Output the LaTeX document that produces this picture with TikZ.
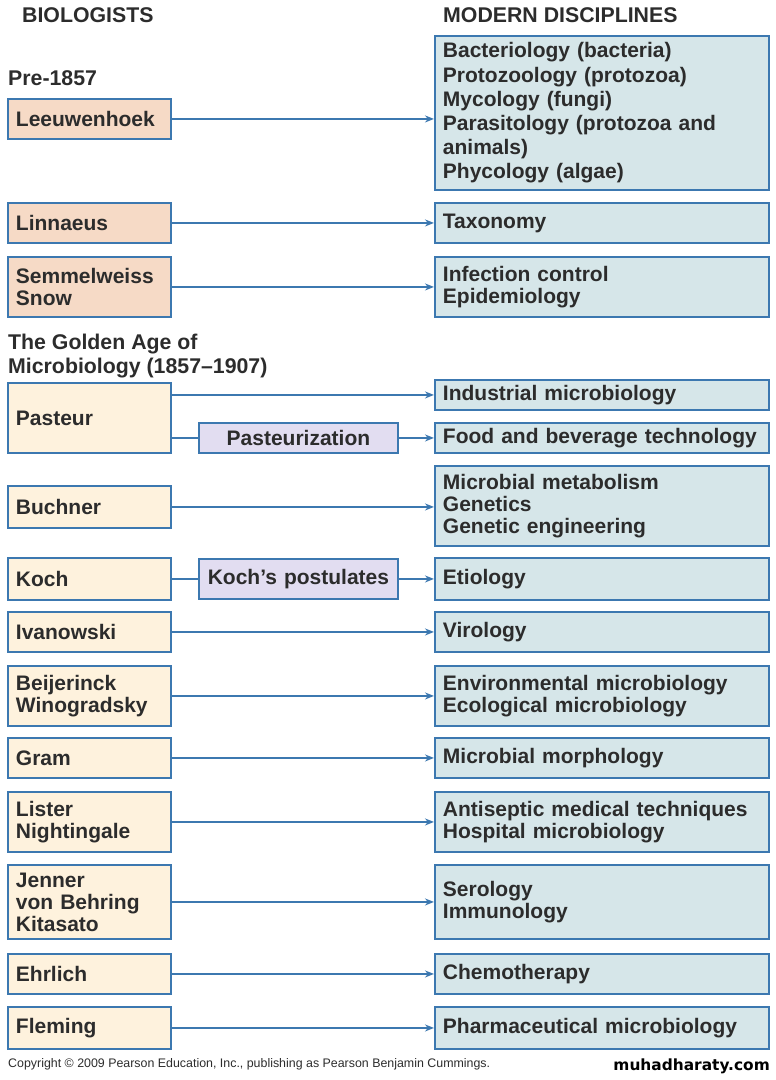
\documentclass[tikz,border=0pt]{standalone}
\usepackage{fontspec}
\setmainfont{Liberation Sans}
\newfontfamily\wmfont{DejaVu Sans}
\usetikzlibrary{arrows.meta}
\definecolor{bord}{HTML}{3C78B0}
\definecolor{peach}{HTML}{F6DAC6}
\definecolor{cream}{HTML}{FEF2DD}
\definecolor{bluegray}{HTML}{D6E6E9}
\definecolor{lav}{HTML}{E2DDF1}
\definecolor{txt}{HTML}{2C2C2C}
\hyphenpenalty=10000
\exhyphenpenalty=10000
\tikzset{
  x=1pt,y=-1pt,
  bx/.style={draw=bord,line width=1.9pt,anchor=north west,align=left,inner xsep=8pt,inner ysep=0pt,
    font=\fontsize{21}{22}\selectfont\bfseries,text=txt},
  lpre/.style={bx,fill=peach,text width=147pt},
  lgold/.style={bx,fill=cream,text width=147pt},
  rbox/.style={bx,fill=bluegray,inner xsep=8pt,text width=318pt},
  mbox/.style={bx,fill=lav,align=center,inner xsep=2pt,text width=195pt},
  hdr/.style={anchor=west,font=\fontsize{21.3}{22}\selectfont\bfseries,text=txt,inner sep=0pt},
  arr/.style={draw=bord,line width=1.9pt,-{Stealth[length=9pt,width=7pt]}},
  ln/.style={draw=bord,line width=1.9pt}
}
\begin{document}
\begin{tikzpicture}
\useasboundingbox (0,0) rectangle (776,1080);
% headers
\node[hdr] (h1) at (22,15) {BIOLOGISTS};
\node[hdr] (h2) at (443,15) {MODERN DISCIPLINES};
\node[hdr] (h3) at (8,78) {Pre-1857};
\node[hdr,align=left,anchor=north west,font=\fontsize{21.3}{24}\selectfont\bfseries] (h4) at (8,334) {The Golden Age of\\Microbiology (1857–1907)};
% left boxes
\node[lpre,minimum height=40pt] (leeu) at (7,98) {Leeuwenhoek};
\node[lpre,minimum height=40pt] (linn) at (7,202) {Linnaeus};
\node[lpre,minimum height=60pt] (semm) at (7,256) {Semmelweiss\\Snow};
\node[lgold,minimum height=70pt] (past) at (7,382) {Pasteur};
\node[lgold,minimum height=42pt] (buch) at (7,485) {Buchner};
\node[lgold,minimum height=42pt] (koch) at (7,557) {Koch};
\node[lgold,minimum height=40pt] (ivan) at (7,611) {Ivanowski};
\node[lgold,minimum height=60pt] (beij) at (7,665) {Beijerinck\\Winogradsky};
\node[lgold,minimum height=40pt] (gram) at (7,737) {Gram};
\node[lgold,minimum height=60pt] (list) at (7,791) {Lister\\Nightingale};
\node[lgold,minimum height=74pt] (jenn) at (7,864) {Jenner\\von Behring\\Kitasato};
\node[lgold,minimum height=40pt] (ehrl) at (7,953) {Ehrlich};
\node[lgold,minimum height=42pt] (flem) at (7,1006) {Fleming};
% middle boxes
\node[mbox,minimum height=30pt] (pz) at (198,422) {Pasteurization};
\node[mbox,minimum height=40pt] (kp) at (198,558) {Koch’s postulates};
% right boxes
\node[rbox,minimum height=154pt,font=\fontsize{21}{24.2}\selectfont\bfseries] (bact) at (434,35) {Bacteriology (bacteria)\\Protozoology (protozoa)\\Mycology (fungi)\\Parasitology (protozoa and\\animals)\\Phycology (algae)};
\node[rbox,minimum height=40pt] (taxo) at (434,202) {Taxonomy};
\node[rbox,minimum height=60pt] (infc) at (434,256) {Infection control\\Epidemiology};
\node[rbox,minimum height=30pt] (indu) at (434,379) {Industrial microbiology};
\node[rbox,minimum height=30pt] (food) at (434,422) {Food and beverage technology};
\node[rbox,minimum height=80pt] (meta) at (434,465) {Microbial metabolism\\Genetics\\Genetic engineering};
\node[rbox,minimum height=42pt] (etio) at (434,557) {Etiology};
\node[rbox,minimum height=40pt] (viro) at (434,611) {Virology};
\node[rbox,minimum height=60pt] (envi) at (434,665) {Environmental microbiology\\Ecological microbiology};
\node[rbox,minimum height=40pt] (morp) at (434,737) {Microbial morphology};
\node[rbox,minimum height=60pt] (anti) at (434,791) {Antiseptic medical techniques\\Hospital microbiology};
\node[rbox,minimum height=74pt] (sero) at (434,864) {Serology\\Immunology};
\node[rbox,minimum height=40pt] (chem) at (434,953) {Chemotherapy};
\node[rbox,minimum height=42pt] (phar) at (434,1006) {Pharmaceutical microbiology};
% connectors
\draw[arr] (leeu.east) -- (leeu.east -| bact.west);
\draw[arr] (linn.east) -- (taxo.west);
\draw[arr] (semm.east) -- (semm.east -| infc.west);
\draw[arr] (past.east |- indu.west) -- (indu.west);
\draw[ln] (past.east |- pz.west) -- (pz.west);
\draw[arr] (pz.east) -- (food.west);
\draw[arr] (buch.east) -- (buch.east -| meta.west);
\draw[ln] (koch.east) -- (koch.east -| kp.west);
\draw[arr] (kp.east) -- (kp.east -| etio.west);
\draw[arr] (ivan.east) -- (viro.west);
\draw[arr] (beij.east) -- (beij.east -| envi.west);
\draw[arr] (gram.east) -- (morp.west);
\draw[arr] (list.east) -- (list.east -| anti.west);
\draw[arr] (jenn.east) -- (jenn.east -| sero.west);
\draw[arr] (ehrl.east) -- (chem.west);
\draw[arr] (flem.east) -- (flem.east -| phar.west);
% footer
\node[anchor=west,inner sep=0pt,font=\fontsize{12.4}{13}\selectfont,text=txt] (copy) at (8,1064) {Copyright © 2009 Pearson Education, Inc., publishing as Pearson Benjamin Cummings.};
\node[anchor=east,inner sep=0pt,font=\wmfont\fontsize{15.4}{16}\selectfont\bfseries,text=black] (wm) at (770,1066) {muhadharaty.com};
\end{tikzpicture}
\end{document}
